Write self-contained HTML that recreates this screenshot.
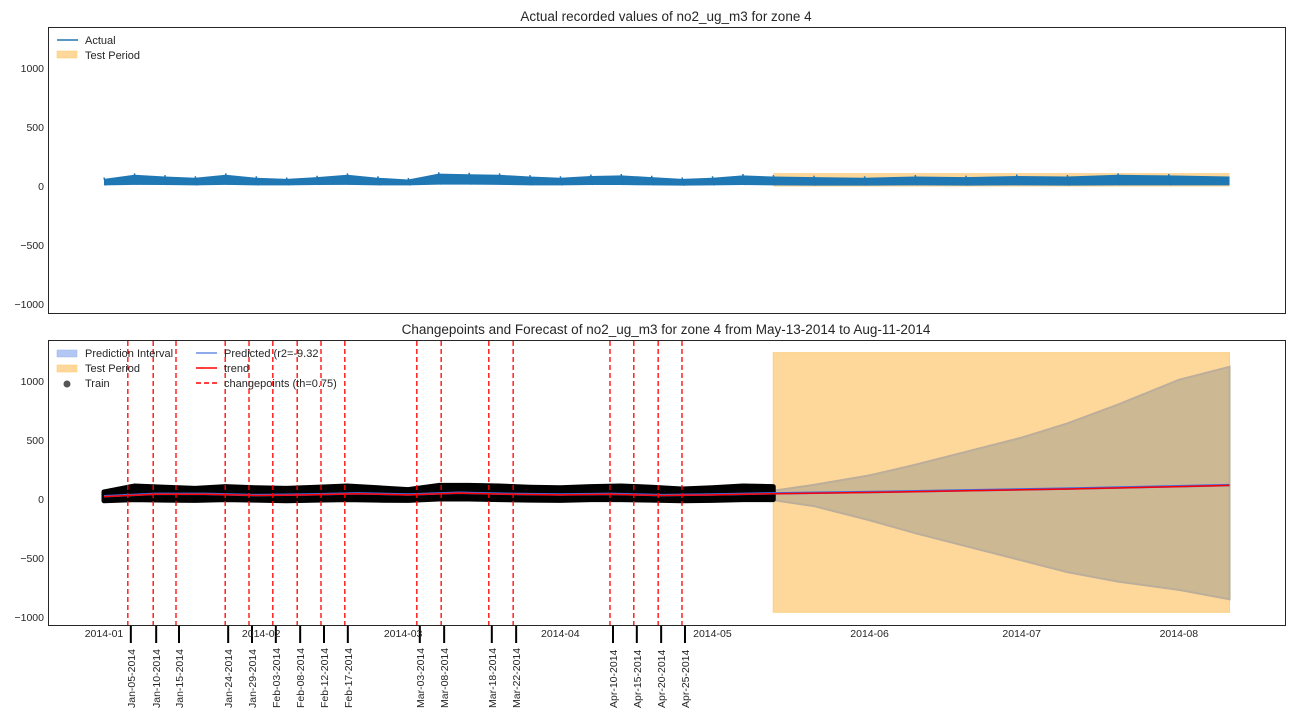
<!DOCTYPE html>
<html><head><meta charset="utf-8">
<style>
body{margin:0;background:#fff;font-family:"Liberation Sans","DejaVu Sans",sans-serif;}
svg{display:block}
text{font-family:"Liberation Sans","DejaVu Sans",sans-serif;fill:#262626}
</style></head>
<body>
<svg id="chart" width="1296" height="720" viewBox="0 0 1296 720">
<rect width="1296" height="720" fill="#fff"/>
<text x="666" y="21" font-size="13.5" text-anchor="middle">Actual recorded values of no2_ug_m3 for zone 4</text>
<text x="666" y="334" font-size="13.5" text-anchor="middle">Changepoints and Forecast of no2_ug_m3 for zone 4 from May-13-2014 to Aug-11-2014</text>
<g id="gtop"></g>
<g id="gbot"></g>
<rect x="48.5" y="27.5" width="1237" height="286" fill="none" stroke="#262626" stroke-width="1"/>
<rect x="48.5" y="340.5" width="1237" height="285" fill="none" stroke="#262626" stroke-width="1"/>
<g>
<line x1="57" y1="40" x2="78" y2="40" stroke="#1f77b4" stroke-width="1.5"/>
<text x="85" y="44" font-size="11">Actual</text>
<rect x="57" y="51" width="20" height="7" fill="#fed89a" stroke="#fcc86a" stroke-width="0.5"/>
<text x="85" y="59" font-size="11">Test Period</text>
</g>
<g>
<rect x="57" y="350" width="20" height="7" fill="#b3c7f4" stroke="#9db5ee" stroke-width="0.5"/>
<text x="85" y="357" font-size="11">Prediction Interval</text>
<rect x="57" y="365" width="20" height="7" fill="#fed89a" stroke="#fcc86a" stroke-width="0.5"/>
<text x="85" y="372" font-size="11">Test Period</text>
<circle cx="67" cy="384" r="3.5" fill="#555"/>
<text x="85" y="387" font-size="11">Train</text>
<line x1="196" y1="353" x2="217" y2="353" stroke="#6a8de0" stroke-width="1.5"/>
<text x="224" y="357" font-size="11">Predicted (r2=-9.32</text>
<line x1="196" y1="368" x2="217" y2="368" stroke="#f00" stroke-width="1.5"/>
<text x="224" y="372" font-size="11">trend</text>
<line x1="196" y1="383" x2="217" y2="383" stroke="#f00" stroke-width="1.5" stroke-dasharray="5,3"/>
<text x="224" y="387" font-size="11">changepoints (th=0.75)</text>
</g>
</svg>
<script>
// ---- data ----
const yTicks=[1000,500,0,-500,-1000];
const monthLabels=["2014-01","2014-02","2014-03","2014-04","2014-05","2014-06","2014-07","2014-08"];
const monthDays=[0,31,59,90,120,151,181,212];
const trainStartDay=0, trainEndDay=132, testEndDay=222;
const actualDays=[0,6,12,18,24,30,36,42,48,54,60,66,72,78,84,90,96,102,108,114,120,126,132,140,150,160,170,180,190,200,210,222];
const actualHigh=[60,95,80,70,95,70,60,75,95,70,55,105,100,95,80,70,85,90,75,60,70,90,80,75,70,80,75,85,80,95,90,80];
const actualLow=[5,10,8,5,10,5,5,8,10,5,5,12,12,10,5,5,8,8,5,3,5,8,5,3,3,5,3,5,3,5,5,5];
const trainHigh=[60,110,100,90,105,95,90,100,110,95,80,115,115,110,100,95,105,110,100,85,95,110,105];
const trainLow=[-15,-5,-10,-12,-5,-10,-15,-10,-5,-10,-12,0,0,-5,-10,-12,-5,-5,-10,-15,-12,-5,-5];
const trendDays=[0,10,20,30,40,50,60,70,80,90,100,110,120,132,150,170,190,212,222];
const trendVals=[20,40,40,30,35,45,35,50,40,35,40,30,35,45,55,70,85,105,115];
const intervalDays=[132,140,151,160,170,181,190,200,212,222];
const intervalUpper=[70,120,200,290,400,520,640,800,1010,1120];
const intervalLower=[-10,-60,-180,-290,-400,-520,-620,-700,-770,-850];
const testBandTop=1240, testBandBottom=-960;
const cpDays=[4.7,9.7,14.2,23.9,28.6,33.3,38.1,42.8,47.5,61.7,66.5,75.9,80.7,99.8,104.5,109.3,114.0];
const cpLabels=["Jan-05-2014","Jan-10-2014","Jan-15-2014","Jan-24-2014","Jan-29-2014","Feb-03-2014","Feb-08-2014","Feb-12-2014","Feb-17-2014","Mar-03-2014","Mar-08-2014","Mar-18-2014","Mar-22-2014","Apr-10-2014","Apr-15-2014","Apr-20-2014","Apr-25-2014"];

// ---- scales ----
const X=d=>104+d*5.07;
const Ytop=v=>186-v*0.118;
const Ybot=v=>499-v*0.118;
const NS="http://www.w3.org/2000/svg";
function mk(tag,attrs,parent){const e=document.createElementNS(NS,tag);for(const k in attrs)e.setAttribute(k,attrs[k]);parent.appendChild(e);return e;}
const svgEl=document.getElementById('chart');
const gTop=document.getElementById('gtop'), gBot=document.getElementById('gbot');
function band(days,hi,lo,Y){let p=days.map((d,i)=>X(d)+','+Y(hi[i]));for(let i=days.length-1;i>=0;i--)p.push(X(days[i])+','+Y(lo[i]));return p.join(' ');}

// y ticks
yTicks.forEach(v=>{
  [[Ytop,'top'],[Ybot,'bottom']].forEach(([Y,n])=>{
    const t=mk('text',{x:44,y:Y(v)+4,'font-size':10.5,'text-anchor':'end'},svgEl);
    
    
    t.textContent=String(v).replace('-','\u2212');
  });
});

// top chart
const tb=mk('rect',{x:X(trainEndDay),y:Ytop(110),width:X(testEndDay)-X(trainEndDay),height:Ytop(-5)-Ytop(110),fill:'#fed89a'},gTop);


const ab=mk('polygon',{points:band(actualDays,actualHigh,actualLow,Ytop),fill:'#1f77b4'},gTop);


for(let i=0;i<actualDays.length-1;i++){
  const l=mk('line',{x1:X(actualDays[i]),y1:Ytop(actualHigh[i]+12),x2:X(actualDays[i])+2,y2:Ytop(actualLow[i]),stroke:'#1f77b4','stroke-width':1.5},gTop);
  
  
}

// bottom chart
const bb=mk('rect',{x:X(trainEndDay),y:Ybot(testBandTop),width:X(testEndDay)-X(trainEndDay),height:Ybot(testBandBottom)-Ybot(testBandTop),fill:'#fed89a',stroke:'#fcd080','stroke-width':1},gBot);


const ib=mk('polygon',{points:band(intervalDays,intervalUpper,intervalLower,Ybot),fill:'#ccb893',stroke:'#bcae9a','stroke-width':2},gBot);


const trainDays=actualDays.slice(0,trainHigh.length);
const tr=mk('polygon',{points:band(trainDays,trainHigh,trainLow,Ybot),fill:'#000',stroke:'#000','stroke-width':5,'stroke-linejoin':'round'},gBot);


const pr=mk('polyline',{points:trendDays.map((d,i)=>X(d)+','+Ybot(trendVals[i]+3)).join(' '),fill:'none',stroke:'#4169e1','stroke-width':2.5},gBot);


const tl=mk('polyline',{points:trendDays.map((d,i)=>X(d)+','+Ybot(trendVals[i])).join(' '),fill:'none',stroke:'#f00','stroke-width':1.5},gBot);



// changepoints
cpDays.forEach((d,i)=>{
  const l=mk('line',{x1:X(d),y1:341,x2:X(d),y2:625,stroke:'#f00','stroke-width':1.3,'stroke-dasharray':'5,3'},gBot);
  
  
  const tk=mk('line',{x1:X(d)+3,y1:626,x2:X(d)+3,y2:643,stroke:'#000','stroke-width':2},svgEl);
  
  
  const tx=X(d)+3+4;
  const t=mk('text',{x:tx,y:708,'font-size':10.5,transform:`rotate(-90 ${tx} 708)`},svgEl);
  
  
  t.textContent=cpLabels[i];
});

// month labels
monthLabels.forEach((m,i)=>{
  const t=mk('text',{x:X(monthDays[i]),y:637,'font-size':10.5,'text-anchor':'middle'},svgEl);
  
  
  t.textContent=m;
});
</script>
</body></html>
